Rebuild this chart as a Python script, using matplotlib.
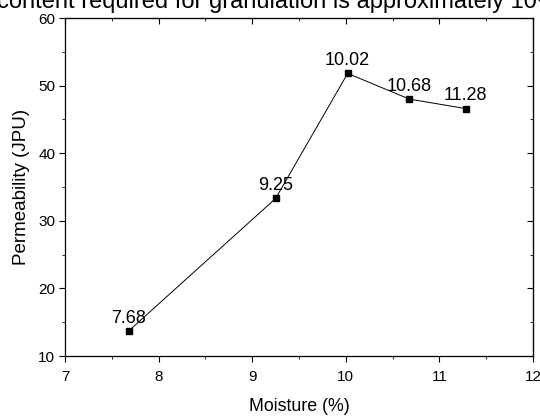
import matplotlib
matplotlib.use("Agg")
import matplotlib.pyplot as plt
from matplotlib.ticker import MultipleLocator

plt.rcParams['font.family'] = ['Liberation Sans', 'DejaVu Sans']

moisture = [7.68, 9.25, 10.02, 10.68, 11.28]
permeability = [13.7, 33.3, 51.8, 48.0, 46.6]
labels = ["7.68", "9.25", "10.02", "10.68", "11.28"]

fig = plt.figure(figsize=(5.40, 4.17), dpi=100)
ax = fig.add_axes([65/540, 1 - 356/417, (533 - 65)/540, (356 - 18)/417])

ax.plot(moisture, permeability, color='black', lw=0.7, marker='s', ms=5,
        markerfacecolor='black', markeredgecolor='black')
for x, y, t in zip(moisture, permeability, labels):
    ax.annotate(t, (x, y), xytext=(0, 3), textcoords='offset points',
                ha='center', va='bottom', fontsize=13)

ax.set_xlim(7, 12)
ax.set_ylim(10, 60)
ax.xaxis.set_major_locator(MultipleLocator(1))
ax.xaxis.set_minor_locator(MultipleLocator(0.5))
ax.yaxis.set_major_locator(MultipleLocator(10))
ax.yaxis.set_minor_locator(MultipleLocator(5))
ax.tick_params(which='both', direction='out', labelsize=11, top=False, right=False)
ax.tick_params(which='major', length=4, pad=3)
ax.tick_params(axis='x', which='major', pad=6)
ax.tick_params(which='minor', length=2.5)
for s in ax.spines.values():
    s.set_linewidth(0.9)

# mirrored inward ticks on top and right
axt = ax.secondary_xaxis('top')
axt.xaxis.set_major_locator(MultipleLocator(1))
axt.xaxis.set_minor_locator(MultipleLocator(0.5))
axt.tick_params(which='both', direction='in', labeltop=False)
axt.tick_params(which='major', length=4)
axt.tick_params(which='minor', length=2.5)
axr = ax.secondary_yaxis('right')
axr.yaxis.set_major_locator(MultipleLocator(10))
axr.yaxis.set_minor_locator(MultipleLocator(5))
axr.tick_params(which='both', direction='in', labelright=False)
axr.tick_params(which='major', length=4)
axr.tick_params(which='minor', length=2.5)

ax.set_xlabel("Moisture (%)", fontsize=12.8, labelpad=10)
ax.set_ylabel("Permeability (JPU)", fontsize=13.5, labelpad=6)

fig.text(-3/540, 1 - 8/417, "content required for granulation is approximately 10%",
         ha='left', va='baseline', fontsize=17)

fig.savefig("out.png", dpi=100)
